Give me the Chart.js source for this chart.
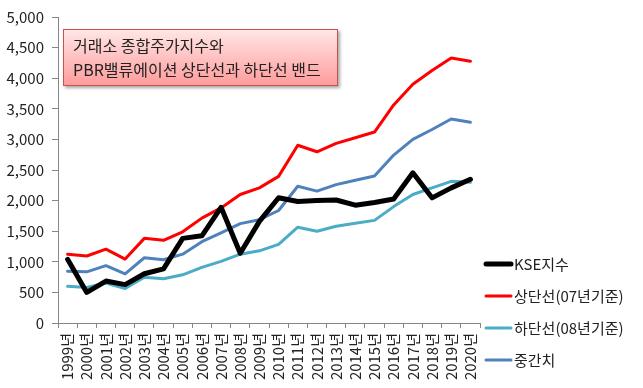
<!DOCTYPE html>
<html>
<head>
<meta charset="utf-8">
<script src="https://cdn.jsdelivr.net/npm/chart.js@4.4.1/dist/chart.umd.min.js"></script>
<style>
    body { margin: 0; background: #fff; }
    #wrap { position: relative; width: 643px; height: 388px; }
    #titleBox {
        position: absolute; left: 63px; top: 29px; width: 273px; height: 55px;
        border: 1px solid #c9514e;
        background: linear-gradient(#ffe6e6, #ff9c9c);
        box-shadow: 2px 2px 3px rgba(0,0,0,0.35);
        font-family: 'Noto Sans CJK KR', sans-serif; font-size: 16px; color: #222;
    }
    #titleBox div { position: absolute; left: 9px; white-space: nowrap; }
</style>
</head>
<body>
<div id="wrap">
    <canvas id="kseChart" width="643" height="388"></canvas>
    <div id="titleBox">
        <div style="top:3px">거래소 종합주가지수와</div>
        <div style="top:27px">PBR밸류에이션 상단선과 하단선 밴드</div>
    </div>
</div>
<script>
// values
const years = ['1999년', '2000년', '2001년', '2002년', '2003년', '2004년', '2005년', '2006년',
    '2007년', '2008년', '2009년', '2010년', '2011년', '2012년', '2013년', '2014년', '2015년',
    '2016년', '2017년', '2018년', '2019년', '2020년'];

const kse = [1040, 500, 685, 627, 805, 885, 1383, 1425, 1890, 1140, 1660, 2047, 1985, 2000,
    2010, 1925, 1970, 2026, 2454, 2045, 2208, 2348];
const upperBand = [1125, 1095, 1206, 1045, 1383, 1351, 1490, 1714, 1880, 2100, 2208, 2396, 2904, 2798,
    2936, 3028, 3120, 3563, 3901, 4126, 4330, 4277];
const lowerBand = [600, 579, 653, 563, 749, 724, 788, 910, 1007, 1125, 1179, 1286, 1565, 1500,
    1581, 1629, 1677, 1902, 2100, 2208, 2315, 2299];
const midBand = [846, 836, 937, 804, 1066, 1034, 1125, 1328, 1473, 1624, 1688, 1838, 2235, 2155,
    2261, 2332, 2401, 2744, 3001, 3162, 3333, 3280];

const seriesNames = ['KSE지수', '상단선(07년기준)', '하단선(08년기준)', '중간치'];

Chart.defaults.font.family = "'Noto Sans CJK KR', sans-serif";
Chart.defaults.font.size = 14;
Chart.defaults.color = '#222';

// legend drawn by hand on the right, like the Excel one
const sideLegend = {
    id: 'sideLegend',
    afterDraw(chart) {
        const ctx = chart.ctx;
        const rows = [264, 296, 328, 360];
        ctx.save();
        chart.data.datasets.forEach((ds, i) => {
            const y = rows[i];
            ctx.beginPath();
            ctx.strokeStyle = ds.borderColor;
            ctx.lineWidth = ds.borderWidth;
            ctx.lineCap = 'round';
            ctx.moveTo(486, y);
            ctx.lineTo(511, y);
            ctx.stroke();
            ctx.fillStyle = '#222';
            ctx.font = "15px 'Noto Sans CJK KR', sans-serif";
            ctx.textBaseline = 'middle';
            ctx.fillText(ds.label, 514, y);
        });
        ctx.restore();
    }
};

const ctx = document.getElementById('kseChart').getContext('2d');

new Chart(ctx, {
    type: 'line',
    data: {
        labels: years,
        datasets: [
            { label: seriesNames[0], data: kse, borderColor: '#000000', borderWidth: 5 },
            { label: seriesNames[1], data: upperBand, borderColor: '#ff0000', borderWidth: 3 },
            { label: seriesNames[2], data: lowerBand, borderColor: '#4bacc6', borderWidth: 3 },
            { label: seriesNames[3], data: midBand, borderColor: '#4f81bd', borderWidth: 3 }
        ]
    },
    options: {
        responsive: false,
        animation: false,
        layout: { padding: { top: 12, right: 163, left: 0, bottom: 0 } },
        elements: {
            point: { radius: 0 },
            line: { tension: 0, borderJoinStyle: 'round', borderCapStyle: 'round' }
        },
        plugins: {
            legend: { display: false },
            tooltip: { enabled: false }
        },
        scales: {
            x: {
                offset: true,
                afterFit: s => { s.height = 65; },
                border: { color: '#868686' },
                grid: { offset: true, drawOnChartArea: false, tickLength: 5, color: '#868686' },
                ticks: { minRotation: 90, maxRotation: 90, padding: 5, autoSkip: false, font: { size: 15 } }
            },
            y: {
                min: 0,
                max: 5000,
                afterFit: s => { s.width = 58; },
                border: { color: '#868686' },
                grid: { drawOnChartArea: false, tickLength: 6, color: '#868686' },
                ticks: {
                    stepSize: 500,
                    padding: 8,
                    font: { size: 15 },
                    callback: v => v.toLocaleString('en-US')
                }
            }
        }
    },
    plugins: [sideLegend]
});
</script>
</body>
</html>
